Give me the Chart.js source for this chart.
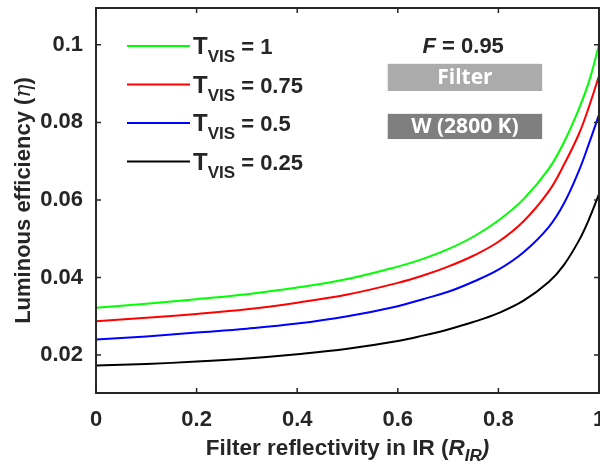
<!DOCTYPE html>
<html>
<head>
<meta charset="utf-8">
<script src="https://cdn.jsdelivr.net/npm/chart.js@4"></script>
<style>
  html, body { margin: 0; padding: 0; background: #fff; overflow: hidden; }
  #wrap { width: 620px; height: 465px; }
</style>
</head>
<body>
<div id="wrap"><canvas id="myChart" width="620" height="465"></canvas></div>
<script>
// values
const rIR = [0, 0.1, 0.2, 0.3, 0.4, 0.5, 0.6, 0.65, 0.7, 0.75, 0.8, 0.85, 0.9, 0.93, 0.96, 0.98, 1];
const etaT100 = [0.0322, 0.0332, 0.0344, 0.0357, 0.0374, 0.0396, 0.0428, 0.0448, 0.0473, 0.0505, 0.0547, 0.0602, 0.0680, 0.0748, 0.0835, 0.0905, 0.1000];
const etaT075 = [0.0287, 0.0296, 0.0306, 0.0318, 0.0335, 0.0356, 0.0386, 0.0405, 0.0428, 0.0456, 0.0492, 0.0545, 0.0622, 0.0690, 0.0770, 0.0840, 0.0920];
const etaT050 = [0.0240, 0.0248, 0.0258, 0.0268, 0.0281, 0.0300, 0.0326, 0.0344, 0.0363, 0.0389, 0.0420, 0.0465, 0.0530, 0.0590, 0.0675, 0.0745, 0.0820];
const etaT025 = [0.0173, 0.0177, 0.0183, 0.0191, 0.0202, 0.0216, 0.0236, 0.0250, 0.0266, 0.0285, 0.0308, 0.0340, 0.0388, 0.0432, 0.0495, 0.0550, 0.0615];
const tVis = ['1', '0.75', '0.5', '0.25'];
const colors = ['#00ff00', '#ff0000', '#0000ff', '#000000'];
const xTicks = [0, 0.2, 0.4, 0.6, 0.8, 1];
const yTicks = [0.02, 0.04, 0.06, 0.08, 0.1];

const TXT = '#262626';
const SANS = '"Liberation Sans", Arial, sans-serif';

// draw a row of text pieces with different fonts / offsets
function drawRuns(ctx, runs, x, y, align) {
    let total = 0;
    runs.forEach(r => { ctx.font = r.f; r.w = ctx.measureText(r.t).width; total += r.w; });
    let cx = align === 'center' ? x - total / 2 : x;
    runs.forEach(r => {
        ctx.font = r.f;
        ctx.fillStyle = r.c || TXT;
        ctx.fillText(r.t, cx, y + (r.dy || 0));
        cx += r.w;
    });
}

const framePlugin = {
    id: 'frame',
    afterDatasetsDraw(chart) {
        const { ctx, chartArea: a, scales: { x, y } } = chart;
        ctx.save();
        ctx.strokeStyle = TXT;
        ctx.lineWidth = 2;
        ctx.strokeRect(a.left, a.top, a.right - a.left, a.bottom - a.top);
        ctx.lineWidth = 1.5;
        ctx.beginPath();
        xTicks.forEach(v => {
            const px = x.getPixelForValue(v);
            ctx.moveTo(px, a.bottom); ctx.lineTo(px, a.bottom - 5);
            ctx.moveTo(px, a.top); ctx.lineTo(px, a.top + 5);
        });
        yTicks.forEach(v => {
            const py = y.getPixelForValue(v);
            ctx.moveTo(a.left, py); ctx.lineTo(a.left + 5, py);
            ctx.moveTo(a.right, py); ctx.lineTo(a.right - 5, py);
        });
        ctx.stroke();
        ctx.restore();
    }
};

const labelPlugin = {
    id: 'labels',
    afterDraw(chart) {
        const { ctx, chartArea: a, scales: { x, y } } = chart;
        ctx.save();
        ctx.textBaseline = 'alphabetic';

        // x title
        drawRuns(ctx, [
            { t: 'Filter reflectivity in IR (', f: 'bold 22.5px ' + SANS },
            { t: 'R', f: 'italic bold 22.5px ' + SANS },
            { t: 'IR', f: 'italic bold 17px ' + SANS, dy: 6 },
            { t: ')', f: 'italic bold 22.5px ' + SANS }
        ], (a.left + a.right) / 2, 455, 'center');

        // y title
        ctx.save();
        ctx.translate(30, (a.top + a.bottom) / 2);
        ctx.rotate(-Math.PI / 2);
        drawRuns(ctx, [
            { t: 'Luminous efficiency (', f: 'bold 22px ' + SANS },
            { t: 'η', f: 'italic 22px "DejaVu Serif", serif' },
            { t: ')', f: 'bold 22px ' + SANS }
        ], 0, 0, 'center');
        ctx.restore();

        // legend
        tVis.forEach((t, i) => {
            const ly = a.top + 38 + i * 38.5;
            ctx.strokeStyle = colors[i];
            ctx.lineWidth = 2;
            ctx.beginPath();
            ctx.moveTo(a.left + 31, ly);
            ctx.lineTo(a.left + 94, ly);
            ctx.stroke();
            drawRuns(ctx, [
                { t: 'T', f: 'bold 24px ' + SANS },
                { t: 'VIS', f: 'bold 17px ' + SANS, dy: 8 },
                { t: ' = ' + t, f: 'bold 22px ' + SANS }
            ], a.left + 97, ly + 8, 'left');
        });

        // F = 0.95
        const cx = x.getPixelForValue(0.73);
        drawRuns(ctx, [
            { t: 'F', f: 'italic bold 22px ' + SANS },
            { t: ' = 0.95', f: 'bold 22px ' + SANS }
        ], cx, y.getPixelForValue(0.1) + 8, 'center');

        // boxes
        const bx0 = x.getPixelForValue(0.58), bx1 = x.getPixelForValue(0.887);
        [[0.0951, 0.0881, '#ababab', 'Filter'], [0.0822, 0.0757, '#7f7f7f', 'W (2800 K)']].forEach(b => {
            const y0 = y.getPixelForValue(b[0]), y1 = y.getPixelForValue(b[1]);
            ctx.fillStyle = b[2];
            ctx.fillRect(bx0, y0, bx1 - bx0, y1 - y0);
            ctx.fillStyle = '#fff';
            ctx.font = 'bold 21px "Open Sans", sans-serif';
            ctx.textAlign = 'center';
            ctx.textBaseline = 'middle';
            ctx.fillText(b[3], (bx0 + bx1) / 2, (y0 + y1) / 2 + 1);
            ctx.textAlign = 'left';
            ctx.textBaseline = 'alphabetic';
        });
        ctx.restore();
    }
};

const series = [etaT100, etaT075, etaT050, etaT025];

new Chart(document.getElementById('myChart'), {
    type: 'line',
    data: {
        datasets: series.map((s, i) => ({
            label: 'T_VIS = ' + tVis[i],
            data: rIR.map((r, j) => ({ x: r, y: s[j] })),
            borderColor: colors[i],
            borderWidth: 2,
            pointRadius: 0,
            fill: false,
            tension: 0.4
        }))
    },
    options: {
        responsive: false,
        animation: false,
        devicePixelRatio: 1,
        layout: { padding: { top: 8, right: 21, left: 0, bottom: 0 } },
        plugins: { legend: { display: false }, tooltip: { enabled: false } },
        scales: {
            x: {
                type: 'linear',
                min: 0,
                max: 1,
                grid: { display: false, drawTicks: false },
                border: { display: false },
                afterBuildTicks: s => { s.ticks = xTicks.map(v => ({ value: v })); },
                afterFit: s => { s.height = 72; s.paddingLeft = 0; s.paddingRight = 0; },
                ticks: {
                    padding: 14,
                    maxRotation: 0,
                    color: TXT,
                    font: { family: SANS, size: 22, weight: 'bold' },
                    callback: v => String(+v.toFixed(1))
                }
            },
            y: {
                type: 'linear',
                min: 0.0102,
                max: 0.1095,
                grid: { display: false, drawTicks: false },
                border: { display: false },
                afterBuildTicks: s => { s.ticks = yTicks.map(v => ({ value: v })); },
                afterFit: s => { s.width = 96; s.paddingTop = 0; s.paddingBottom = 0; },
                ticks: {
                    padding: 13,
                    color: TXT,
                    font: { family: SANS, size: 22, weight: 'bold' },
                    callback: v => String(+v.toFixed(2))
                }
            }
        }
    },
    plugins: [framePlugin, labelPlugin]
});
</script>
</body>
</html>
